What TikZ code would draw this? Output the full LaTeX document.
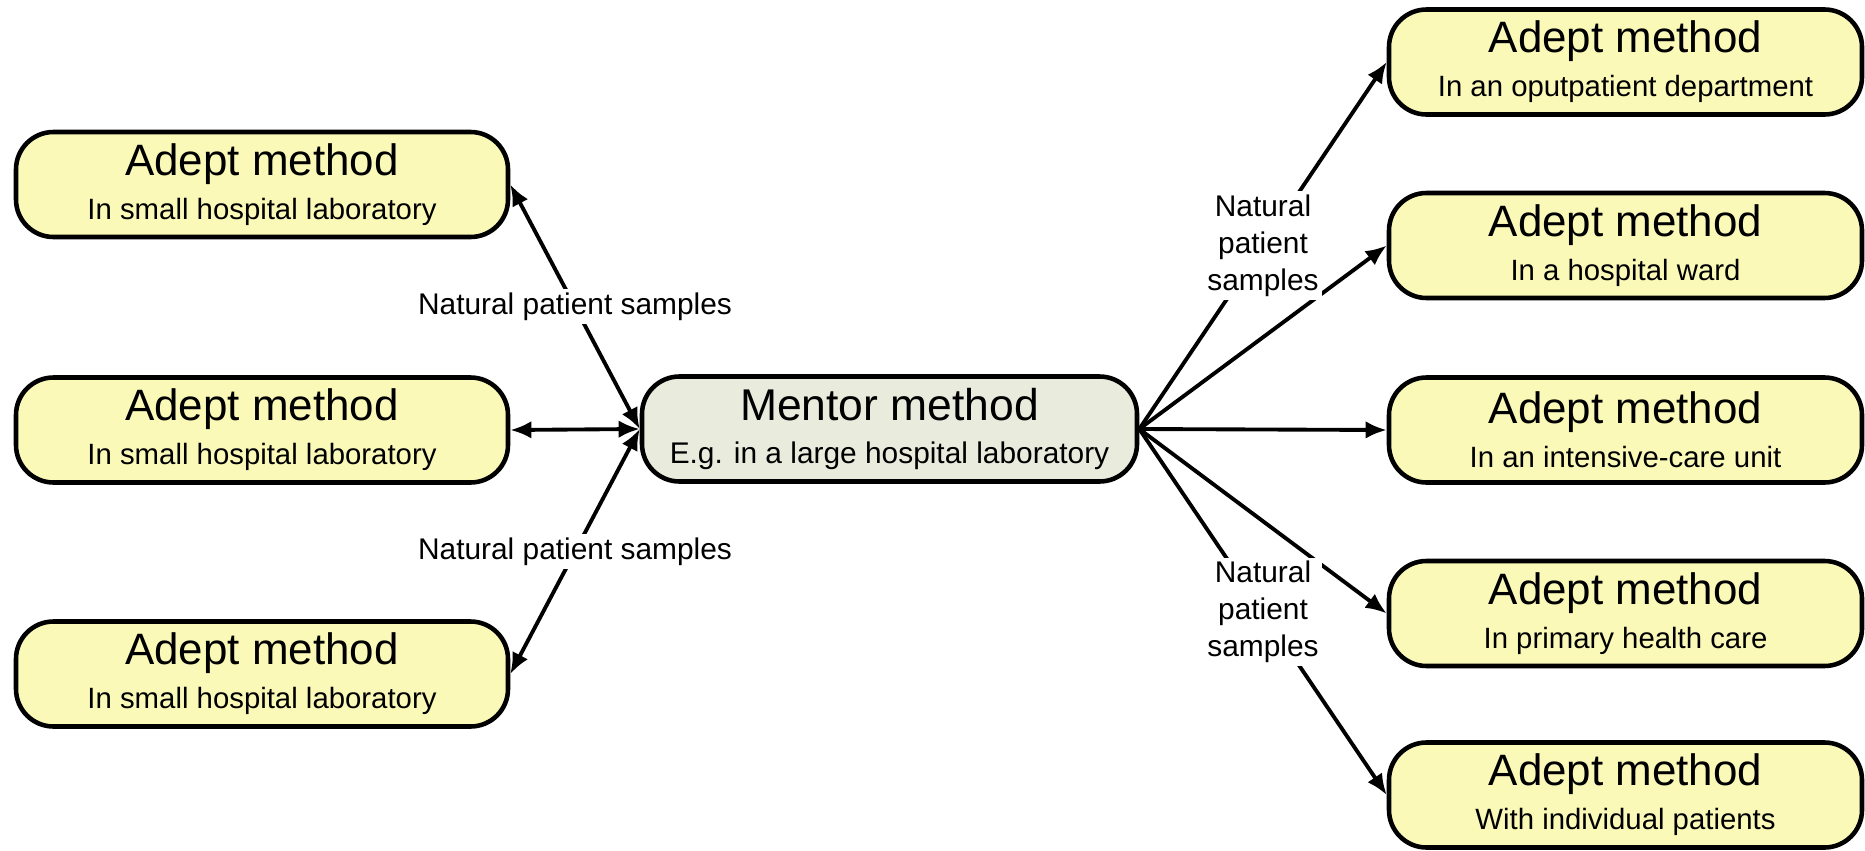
\documentclass[tikz,border=0pt]{standalone}
\usepackage{fontspec}
\setmainfont{Liberation Sans}
\usetikzlibrary{arrows.meta}

\definecolor{adeptfill}{RGB}{250,249,184}
\definecolor{mentorfill}{RGB}{233,235,221}
\newcommand{\adept}[1]{{\fontsize{25}{28}\selectfont Adept method}\\#1}

\begin{document}
\begin{tikzpicture}[
    box/.style={draw, line width=2.6pt, rounded corners=0.75cm, align=center,
        fill=adeptfill, minimum height=2.1cm, inner sep=2pt,
        font=\fontsize{16.7}{25}\selectfont},
    leftbox/.style={box, minimum width=9.84cm},
    rightbox/.style={box, minimum width=9.46cm},
    link/.style={line width=2.2pt, -{Latex[length=12pt,width=10pt]}},
    both/.style={link, {Latex[length=12pt,width=10pt]}-{Latex[length=12pt,width=10pt]}},
    lbl/.style={fill=white, inner sep=2pt, align=center,
        font=\fontsize{17}{21}\selectfont}
]
    \useasboundingbox (0,0) rectangle (37.3,-17);
    \node[leftbox] (tl) at (5.24,-3.69) {\adept{In small hospital laboratory}};
    \node[leftbox] (ml) at (5.24,-8.6) {\adept{In small hospital laboratory}};
    \node[leftbox] (bl) at (5.24,-13.48) {\adept{In small hospital laboratory}};
    \node[box, fill=mentorfill, minimum width=9.9cm, font=\fontsize{17}{25}\selectfont] (mentor) at (17.79,-8.58)
        {{\fontsize{25.3}{28}\selectfont Mentor method}\\E.g. in a large hospital laboratory};
    \node[rightbox] (r1) at (32.51,-1.24) {\adept{In an oputpatient department}};
    \node[rightbox] (r2) at (32.51,-4.91) {\adept{In a hospital ward}};
    \node[rightbox] (r3) at (32.51,-8.6) {\adept{In an intensive-care unit}};
    \node[rightbox] (r4) at (32.51,-12.27) {\adept{In primary health care}};
    \node[rightbox] (r5) at (32.51,-15.9) {\adept{With individual patients}};

    \draw[both] (mentor.west) -- (tl.east) node[lbl, midway] {Natural patient samples};
    \draw[both] (mentor.west) -- (ml.east);
    \draw[both] (mentor.west) -- (bl.east) node[lbl, midway] {Natural patient samples};
    \draw[link] (mentor.east) -- (r2.west);
    \draw[link] (mentor.east) -- (r4.west);
    \draw[link] (mentor.east) -- (r3.west);
    \draw[link] (mentor.east) -- (r1.west) node[lbl, midway] {Natural\\patient\\samples};
    \draw[link] (mentor.east) -- (r5.west) node[lbl, midway] {Natural\\patient\\samples};
\end{tikzpicture}
\end{document}
